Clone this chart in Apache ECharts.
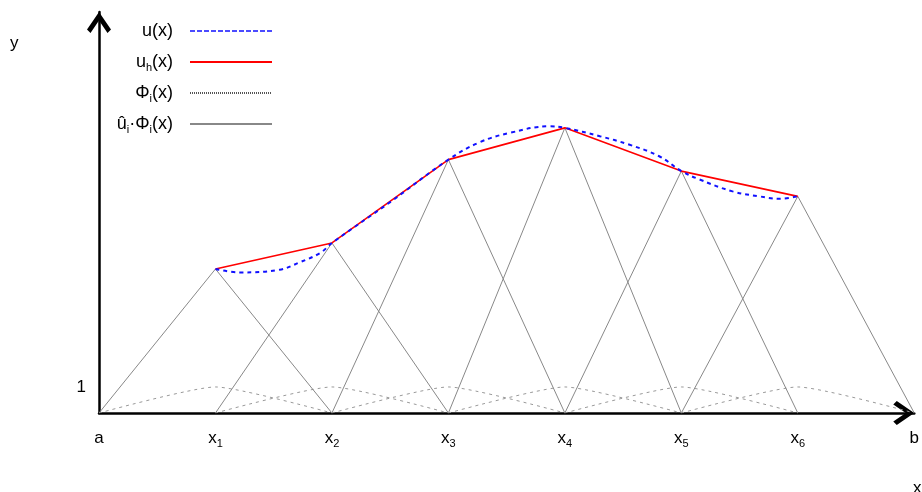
<!DOCTYPE html>
<html><head><meta charset="utf-8">
<script src="https://cdn.jsdelivr.net/npm/echarts@6/dist/echarts.min.js"></script>
<style>html,body{margin:0;padding:0;background:#fff}#c{width:922px;height:492px}</style>
</head><body><div id="c"></div>
<script>
// tick labels along x (positions 0..7)
const xTickLabels = ['a', 'x{s|1}', 'x{s|2}', 'x{s|3}', 'x{s|4}', 'x{s|5}', 'x{s|6}', 'b'];
// nodes and nodal values of u_h
const nodeX = [1, 2, 3, 4, 5, 6];
const uhValues = [5.53, 6.53, 9.73, 10.95, 9.29, 8.32];
// exact solution u(x), sampled
const uExactX = [1, 1.21, 1.55, 1.72, 1.90, 2, 2.5, 3, 3.27, 3.53, 3.87, 4, 4.30, 4.55, 4.81, 5, 5.15, 5.44, 5.67, 5.84, 6];
const uExactY = [5.53, 5.40, 5.50, 5.78, 6.15, 6.53, 8.10, 9.73, 10.40, 10.76, 11.01, 10.95, 10.63, 10.31, 9.86, 9.29, 8.98, 8.51, 8.32, 8.23, 8.32];
const legendNames = ['u(x)', 'uh(x)', 'Phi(x)', 'uPhi(x)'];
const legendLabels = ['u(x)', 'u{s|h}(x)', 'Φ{s|i}(x)', 'û{s|i}·Φ{s|i}(x)'];

const FONT = 'Liberation Sans, Arial, sans-serif';
const rich = {
  s: { fontSize: 11, lineHeight: 12, verticalAlign: 'bottom', fontFamily: FONT, color: '#000' }
};
const arrow = 'path://M0,0 L12,17.5 L8.5,21 L0,8.5 L-8.5,21 L-12,17.5 Z';

const series = [];
nodeX.forEach((xi, k) => {
  series.push({
    name: legendNames[3], type: 'line', symbol: 'none', silent: true, z: 2,
    itemStyle: { color: '#888' },
    lineStyle: { color: '#888', width: 1 },
    data: [[xi - 1, 0], [xi, uhValues[k]], [xi + 1, 0]]
  });
});
nodeX.forEach((xi) => {
  series.push({
    name: legendNames[2], type: 'line', symbol: 'none', silent: true, smooth: 0.18, z: 1,
    itemStyle: { color: '#999' },
    lineStyle: { color: '#999', width: 1, type: [3, 4] },
    data: [[xi - 1, 0], [xi, 1], [xi + 1, 0]]
  });
});
series.push({
  name: legendNames[1], type: 'line', symbol: 'none', z: 4,
  itemStyle: { color: '#ff0000' },
  lineStyle: { color: '#ff0000', width: 1.6 },
  data: nodeX.map((x, i) => [x, uhValues[i]])
});
series.push({
  name: legendNames[0], type: 'line', symbol: 'none', smooth: 0.4, z: 5,
  itemStyle: { color: '#1010ff' },
  lineStyle: { color: '#1010ff', width: 2, type: [4, 4] },
  data: uExactX.map((x, i) => [x, uExactY[i]])
});

const chart = echarts.init(document.getElementById('c'));
chart.setOption({
  animation: false,
  backgroundColor: '#fff',
  grid: { left: 99, right: 7, top: 12, bottom: 79 },
  legend: {
    data: [
      { name: legendNames[0], lineStyle: { type: [5, 2], width: 1.6 } },
      { name: legendNames[1] },
      { name: legendNames[2], lineStyle: { type: [1, 1], color: '#555' } },
      { name: legendNames[3] }
    ],
    orient: 'vertical', align: 'right', right: 644, top: 15,
    itemWidth: 82, itemHeight: 14, itemGap: 9,
    itemStyle: { opacity: 0 },
    formatter: (n) => legendLabels[legendNames.indexOf(n)],
    textStyle: { fontSize: 18, lineHeight: 22, fontFamily: FONT, color: '#000', padding: [0, 12, 0, 0], rich: rich },
    selectedMode: false
  },
  xAxis: {
    type: 'value', min: 0, max: 7, interval: 1,
    axisLine: { show: true, lineStyle: { color: '#000', width: 2.5 }, symbol: ['none', arrow], symbolSize: [24, 21], symbolOffset: [0, -10.5] },
    axisTick: { show: false }, splitLine: { show: false },
    axisLabel: {
      margin: 14, fontSize: 17, lineHeight: 22, fontFamily: FONT, color: '#000', rich: rich,
      formatter: (v) => xTickLabels[Math.round(v)] || ''
    }
  },
  yAxis: {
    type: 'value', min: 0, max: 15.4, interval: 1,
    axisLine: { show: true, lineStyle: { color: '#000', width: 2.5 }, symbol: ['none', arrow], symbolSize: [24, 21], symbolOffset: [0, -10.5] },
    axisTick: { show: false }, splitLine: { show: false },
    axisLabel: {
      margin: 13, fontSize: 17, fontFamily: FONT, color: '#000',
      formatter: (v) => (v === 1 ? '1' : '')
    }
  },
  graphic: [
    { type: 'text', left: 10, top: 35, style: { text: 'y', fontSize: 17, fontFamily: FONT, fill: '#000' } },
    { type: 'text', left: 913, top: 480, style: { text: 'x', fontSize: 17, fontFamily: FONT, fill: '#000' } }
  ],
  series: series
});
</script></body></html>
